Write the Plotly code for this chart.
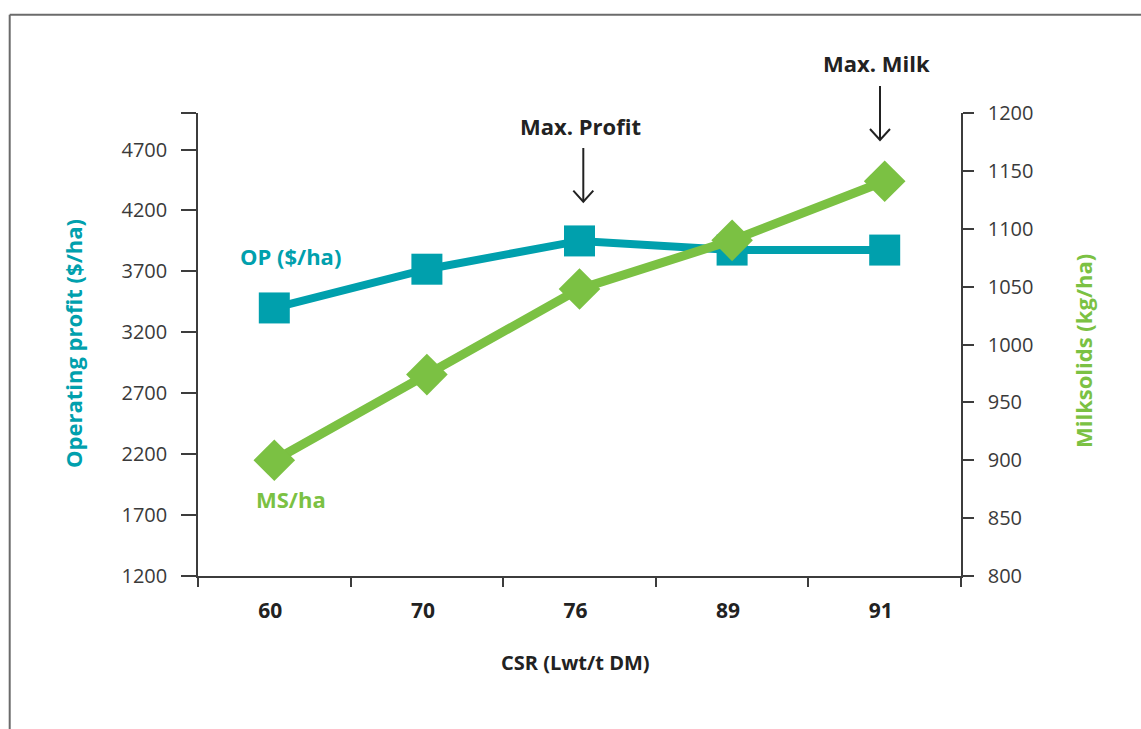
import plotly.graph_objects as go

# Comparable stocking rate (CSR) scenarios
csr = ["60", "70", "76", "89", "91"]
operating_profit = [3400, 3718, 3950, 3875, 3875]   # $/ha, left axis
milksolids = [900, 974, 1048, 1090, 1141]           # kg/ha, right axis

op_ticks = [1200, 1700, 2200, 2700, 3200, 3700, 4200, 4700, 5000]
op_ticktext = ["1200", "1700", "2200", "2700", "3200", "3700", "4200", "4700", ""]
ms_ticks = [800, 850, 900, 950, 1000, 1050, 1100, 1150, 1200]

TEAL = "#00A0AD"
GREEN = "#7BC143"
AXIS = "#3c3c3c"
DARK = "#222222"
FONT = "Open Sans"

fig = go.Figure()

fig.add_trace(go.Scatter(
    x=csr, y=operating_profit, mode="lines+markers", name="OP ($/ha)",
    line=dict(color=TEAL, width=8),
    marker=dict(symbol="square", size=31, color=TEAL),
    yaxis="y",
))
fig.add_trace(go.Scatter(
    x=csr, y=milksolids, mode="lines+markers", name="MS/ha",
    line=dict(color=GREEN, width=9),
    marker=dict(symbol="diamond", size=32, color=GREEN),
    yaxis="y2",
))

W, H = 1141, 729
L, R, T, B = 198, 180, 113, 153
PW, PH = W - L - R, H - T - B


def px_x(px):
    """Horizontal page pixel -> paper fraction."""
    return (px - L) / PW


def px_y(py):
    """Vertical page pixel (from top) -> paper fraction."""
    return (H - B - py) / PH


fig.update_layout(
    width=W, height=H,
    margin=dict(l=L, r=R, t=T, b=B, pad=0),
    paper_bgcolor="white", plot_bgcolor="white",
    showlegend=False,
    font=dict(family=FONT, color=AXIS),
    xaxis=dict(
        type="category", range=[-0.5, 4.5],
        showline=True, linecolor=AXIS, linewidth=1.5,
        ticks="outside", ticklen=9, tickwidth=1.5, tickcolor=AXIS,
        tickson="boundaries", ticklabelstandoff=15, ticklabelshift=-4,
        tickfont=dict(family=FONT, size=21, color=DARK, weight="bold"),
        showgrid=False, zeroline=False, fixedrange=True,
    ),
    yaxis=dict(
        range=[1200, 5000], tickvals=op_ticks, ticktext=op_ticktext,
        showline=True, linecolor=AXIS, linewidth=1.5,
        ticks="outside", ticklen=15, tickwidth=1.5, tickcolor=AXIS,
        ticklabelstandoff=10,
        tickfont=dict(family=FONT, size=20, color="#3a3a3a"),
        showgrid=False, zeroline=False,
    ),
    yaxis2=dict(
        range=[800, 1200], tickvals=ms_ticks, overlaying="y", side="right",
        showline=True, linecolor=AXIS, linewidth=1.5,
        ticks="outside", ticklen=11, tickwidth=1.5, tickcolor=AXIS,
        ticklabelstandoff=10,
        tickfont=dict(family=FONT, size=20, color="#3a3a3a"),
        showgrid=False, zeroline=False,
    ),
)

annotations = [
    # axis titles
    dict(text="<b>Operating profit ($/ha)</b>", x=px_x(72.5), y=px_y(343.5), textangle=-90,
         font=dict(size=22, color=TEAL)),
    dict(text="<b>Milksolids (kg/ha)</b>", x=px_x(1083), y=px_y(351), textangle=-90,
         font=dict(size=22, color=GREEN)),
    dict(text="<b>CSR (Lwt/t DM)</b>", x=px_x(575), y=px_y(662),
         font=dict(size=20, color=DARK)),
    # series labels
    dict(text="<b>OP ($/ha)</b>", x=px_x(290), y=px_y(256), font=dict(size=22, color=TEAL)),
    dict(text="<b>MS/ha</b>", x=px_x(290.5), y=px_y(499), font=dict(size=22, color=GREEN)),
    # callouts
    dict(text="<b>Max. Profit</b>", x=px_x(580), y=px_y(126), font=dict(size=22, color=DARK)),
    dict(text="<b>Max. Milk</b>", x=px_x(876), y=px_y(63), font=dict(size=22, color=DARK)),
]
for a in annotations:
    a.update(xref="paper", yref="paper", showarrow=False, xanchor="center", yanchor="middle")
    fig.add_annotation(**a)

# downward arrows pointing at the two maxima: (x, tail y, tip y) in page pixels
arrow_line = dict(color=DARK, width=2)
for ax_px, tail_px, tip_px in [(583.3, 148, 201.7), (880, 86, 140)]:
    fig.add_shape(type="line", xref="paper", yref="paper",
                  x0=px_x(ax_px), x1=px_x(ax_px), y0=px_y(tail_px), y1=px_y(tip_px),
                  line=arrow_line)
    fig.add_shape(type="path", xref="paper", yref="paper",
                  path=(f"M{px_x(ax_px - 10)},{px_y(tip_px - 11)} "
                        f"L{px_x(ax_px)},{px_y(tip_px)} "
                        f"L{px_x(ax_px + 10)},{px_y(tip_px - 11)}"),
                  line=arrow_line)

# outer frame (top and left edges)
frame = dict(color="#6b6b6b", width=2)
fig.add_shape(type="line", xref="paper", yref="paper", x0=px_x(9.7), x1=px_x(W),
              y0=px_y(14.7), y1=px_y(14.7), line=frame)
fig.add_shape(type="line", xref="paper", yref="paper", x0=px_x(9.7), x1=px_x(9.7),
              y0=px_y(14.7), y1=px_y(H), line=frame)

fig.write_html("out.html", config={"displayModeBar": False})
